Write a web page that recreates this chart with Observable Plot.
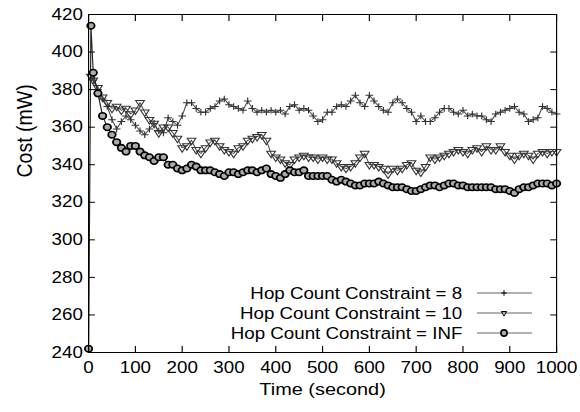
<!DOCTYPE html>
<html>
<head>
<meta charset="utf-8">
<script src="https://cdn.jsdelivr.net/npm/d3@7"></script>
<script src="https://cdn.jsdelivr.net/npm/@observablehq/plot@0.6"></script>
<style>
  body { margin: 0; background: #fff; }
  #wrap { position: relative; width: 580px; height: 412px; font-family: "Liberation Sans", Arial, sans-serif; }
  .lg-text { position: absolute; right: 118px; height: 20px; line-height: 20px; font-size: 16.3px; color: #000;
             white-space: nowrap; transform: scaleX(1.15); transform-origin: right center; }
  .lg-sw { position: absolute; left: 476px; width: 58px; height: 20px; }
</style>
</head>
<body>
<div id="wrap"></div>
<script>
// ---- data ----
const times = [0, 5,
  10, 20, 30, 40, 50, 60, 70, 80, 90,
  100, 110, 120, 130, 140, 150, 160, 170, 180, 190,
  200, 210, 220, 230, 240, 250, 260, 270, 280, 290,
  300, 310, 320, 330, 340, 350, 360, 370, 380, 390,
  400, 410, 420, 430, 440, 450, 460, 470, 480, 490,
  500, 510, 520, 530, 540, 550, 560, 570, 580, 590,
  600, 610, 620, 630, 640, 650, 660, 670, 680, 690,
  700, 710, 720, 730, 740, 750, 760, 770, 780, 790,
  800, 810, 820, 830, 840, 850, 860, 870, 880, 890,
  900, 910, 920, 930, 940, 950, 960, 970, 980, 990,
  1000];

const hop8 = [null, 388,
  385, 380, 375, 371, 364, 359, 363, 366, 364,
  361, 358, 356, 359, 362, 358, 357, 365, 363, 361,
  366, 373, 373, 370, 368, 368, 370, 371, 374, 375,
  372, 371, 370, 369, 374, 370, 368, 369, 368, 369,
  368, 369, 367, 371, 372, 369, 370, 369, 366, 363,
  364, 368, 368, 371, 372, 371, 374, 377, 373, 371,
  377, 374, 371, 369, 368, 373, 375, 373, 370, 368,
  363, 366, 363, 363, 365, 368, 370, 370, 368, 367,
  369, 366, 367, 366, 366, 364, 363, 367, 368, 369,
  370, 371, 368, 367, 363, 364, 365, 371, 370, 368,
  367];

const hop10 = [null, 387,
  385, 381, 376, 373, 370, 371, 369, 370, 367,
  369, 373, 368, 364, 362, 357, 360, 360, 357, 354,
  349, 350, 353, 348, 346, 349, 352, 353, 350, 348,
  347, 346, 349, 350, 353, 354, 355, 356, 353, 346,
  344, 343, 341, 340, 343, 344, 345, 344, 344, 343,
  344, 343, 343, 341, 339, 338, 339, 341, 344, 346,
  340, 340, 339, 338, 335, 338, 337, 338, 340, 341,
  337, 336, 339, 344, 343, 344, 345, 346, 347, 348,
  347, 346, 348, 349, 347, 350, 348, 348, 350, 347,
  345, 343, 345, 346, 345, 343, 346, 347, 346, 347,
  347];

const hopInf = [242, 414,
  389, 378, 366, 360, 356, 352, 349, 347, 350,
  350, 347, 345, 344, 342, 344, 344, 340, 340, 338,
  337, 338, 340, 339, 337, 337, 337, 336, 335, 334,
  336, 336, 335, 336, 337, 337, 336, 337, 338, 335,
  334, 333, 335, 337, 336, 336, 337, 334, 334, 334,
  334, 334, 332, 331, 332, 331, 330, 329, 329, 330,
  330, 330, 331, 330, 329, 328, 328, 328, 327, 326,
  326, 327, 328, 329, 329, 328, 329, 330, 330, 329,
  329, 328, 328, 328, 328, 328, 328, 327, 327, 327,
  326, 325, 327, 328, 328, 329, 330, 330, 330, 329,
  330];

const seriesNames = ["Hop Count Constraint = 8", "Hop Count Constraint = 10", "Hop Count Constraint = INF"];
const xTicks = [0, 100, 200, 300, 400, 500, 600, 700, 800, 900, 1000];
const yTicks = [240, 260, 280, 300, 320, 340, 360, 380, 400, 420];
const xLabel = "Time (second)";
const yLabel = "Cost (mW)";

// ---- build ----
const rows = vals => times.map((t, i) => ({t, v: vals[i]}));
const d8 = rows(hop8), d10 = rows(hop10), dInf = rows(hopInf);

const W = 504, H = 412, K = 580 / W;
const font = '"Liberation Sans", Arial, sans-serif';
const fmt = d3.format("d");

const chart = Plot.plot({
  width: W, height: H,
  marginLeft: 88 / K, marginRight: 24 / K, marginTop: 14, marginBottom: 60,
  style: {fontFamily: font, fontSize: "16.3px", color: "#000", background: "#fff"},
  x: {domain: [0, 1000]},
  y: {domain: [240, 420]},
  marks: [
    Plot.line(d8, {x: "t", y: "v", stroke: "#444", strokeWidth: 0.9}),
    Plot.dot(d8, {x: "t", y: "v", symbol: "plus", r: 2.3, stroke: "#333", strokeWidth: 1}),
    Plot.line(d10, {x: "t", y: "v", stroke: "#444", strokeWidth: 0.9}),
    Plot.dot(d10, {x: "t", y: "v", symbol: "triangle", rotate: 180, r: 2.8, stroke: "#333", strokeWidth: 1, fill: "none"}),
    Plot.line(dInf, {x: "t", y: "v", stroke: "#222", strokeWidth: 1}),
    Plot.dot(dInf, {x: "t", y: "v", symbol: "circle", r: 3.2, stroke: "#000", strokeWidth: 1.6, fill: "#aaa"}),
    Plot.axisX(xTicks, {anchor: "bottom", tickSize: -6, tickPadding: 15, tickFormat: fmt, fontSize: 16.3, label: null}),
    Plot.axisX(xTicks, {anchor: "top", tickSize: -6, tickFormat: () => "", label: null}),
    Plot.axisY(yTicks, {anchor: "left", tickSize: -6, tickPadding: 11, tickFormat: fmt, fontSize: 16.3, label: null}),
    Plot.axisY(yTicks, {anchor: "right", tickSize: -6, tickFormat: () => "", label: null}),
    Plot.text([xLabel], {text: d => d, frameAnchor: "bottom", lineAnchor: "middle", dy: 37, fontSize: 17.3}),
    Plot.text([yLabel], {text: d => d, frameAnchor: "left", lineAnchor: "middle", rotate: -90, dx: -55.6, dy: -6, fontSize: 19.5}),
    Plot.frame({stroke: "#000", strokeWidth: 1})
  ]
});
chart.setAttribute("width", 580);
chart.setAttribute("height", 412);
chart.setAttribute("preserveAspectRatio", "none");
chart.style.width = "580px";
chart.style.height = "412px";
chart.style.maxWidth = "none";

const wrap = document.getElementById("wrap");
wrap.appendChild(chart);

// ---- legend (inside the plot, lower right) ----
const legendY = [293, 313, 333];
const symbols = [
  d3.symbol(d3.symbolPlus, 12)(),
  d3.symbol(d3.symbolTriangle2, 20)(),
  d3.symbol(d3.symbolCircle, 30)()
];
seriesNames.forEach((name, i) => {
  const t = document.createElement("div");
  t.className = "lg-text";
  t.style.top = (legendY[i] - 10) + "px";
  t.textContent = name;
  wrap.appendChild(t);
  const s = d3.create("svg").attr("class", "lg-sw").attr("width", 58).attr("height", 20)
    .style("top", (legendY[i] - 10) + "px");
  s.append("line").attr("x1", 1).attr("x2", 56).attr("y1", 10).attr("y2", 10)
    .attr("stroke", "#666").attr("stroke-width", 1);
  s.append("path").attr("d", symbols[i])
    .attr("transform", i === 1 ? "translate(28,10) rotate(180)" : "translate(28,10)")
    .attr("stroke", "#000").attr("stroke-width", i === 2 ? 1.6 : 1)
    .attr("fill", i === 2 ? "#aaa" : "none");
  wrap.appendChild(s.node());
});
</script>
</body>
</html>
